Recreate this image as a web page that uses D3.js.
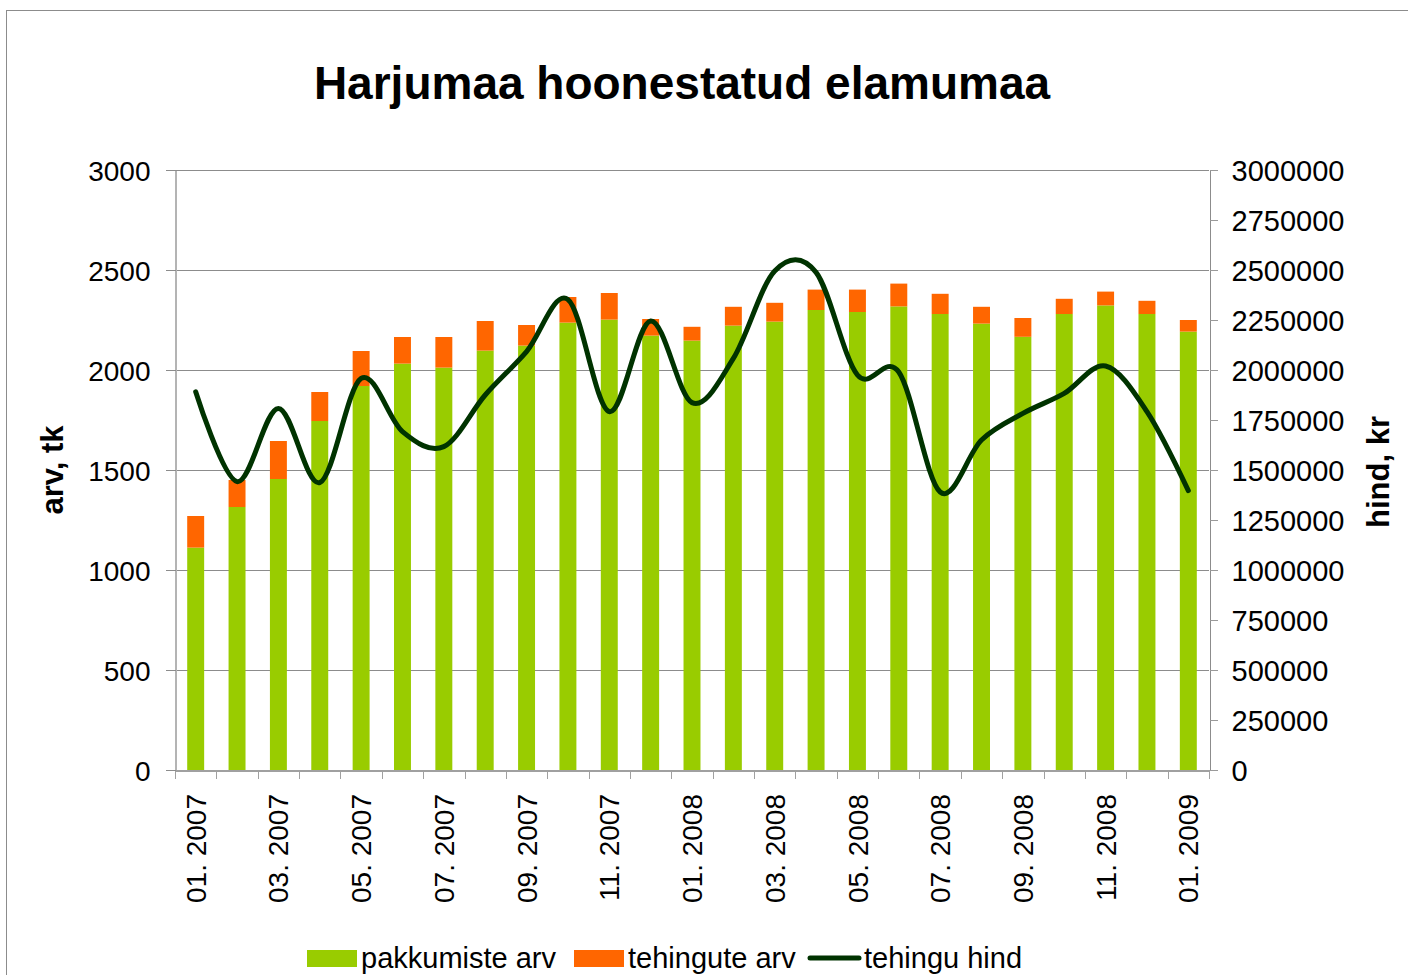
<!DOCTYPE html>
<html>
<head>
<meta charset="utf-8">
<script src="https://cdn.jsdelivr.net/npm/d3@7"></script>
<style>
  body { margin: 0; background: #fff; }
  svg { font-family: "Liberation Sans", Arial, sans-serif; }
  .axis path, .axis line { shape-rendering: crispEdges; }
</style>
</head>
<body>
<div id="chart"></div>
<script>
var months = ["01. 2007", "02. 2007", "03. 2007", "04. 2007", "05. 2007", "06. 2007",
              "07. 2007", "08. 2007", "09. 2007", "10. 2007", "11. 2007", "12. 2007",
              "01. 2008", "02. 2008", "03. 2008", "04. 2008", "05. 2008", "06. 2008",
              "07. 2008", "08. 2008", "09. 2008", "10. 2008", "11. 2008", "12. 2008",
              "01. 2009"];
var pakkumised = [1112, 1315, 1455, 1745, 1920, 2032, 2012, 2097, 2122, 2237, 2252, 2172,
                  2147, 2222, 2242, 2300, 2290, 2318, 2280, 2232, 2166, 2280, 2323, 2280, 2192];
var tehingud = [158, 135, 190, 145, 175, 133, 153, 148, 103, 128, 133, 83,
                69, 94, 94, 102, 112, 114, 101, 84, 94, 76, 69, 66, 58];
var hind = [1891000, 1442000, 1808000, 1437000, 1958000, 1692000, 1617000, 1875000,
            2092000, 2353000, 1792000, 2245000, 1837000, 2058000, 2495000, 2488000,
            1975000, 1990000, 1390000, 1650000, 1783000, 1883000, 2020000, 1792000, 1397000];
var leftTicks = [0, 500, 1000, 1500, 2000, 2500, 3000];
var rightTicks = [0, 250000, 500000, 750000, 1000000, 1250000, 1500000, 1750000,
                  2000000, 2250000, 2500000, 2750000, 3000000];
var seriesNames = ["pakkumiste arv", "tehingute arv", "tehingu hind"];
var colors = ["#99cc00", "#ff6600", "#003300"];

var cfg = {
    width: 1408,
    height: 975,
    margin: {top: 170, left: 175},
    plotW: 1034,
    plotH: 600
};

var svg = d3.select("#chart").append("svg")
    .attr("width", cfg.width)
    .attr("height", cfg.height);

// outer chart frame
svg.append("rect")
    .attr("x", 6.5).attr("y", 10.5)
    .attr("width", cfg.width).attr("height", cfg.height)
    .attr("fill", "none").attr("stroke", "#8c8c8c");

svg.append("text")
    .attr("x", 682).attr("y", 99)
    .attr("text-anchor", "middle")
    .style("font-size", "46px").style("font-weight", "bold")
    .text("Harjumaa hoonestatud elamumaa");

var g = svg.append("g")
    .attr("transform", "translate(" + cfg.margin.left + "," + cfg.margin.top + ")");

var x = d3.scaleBand().domain(months).range([0, cfg.plotW])
    .paddingInner(0.59).paddingOuter(0.295);
var xEdge = d3.scaleLinear().domain([0, months.length]).range([0, cfg.plotW]);
var y = d3.scaleLinear().domain([0, 3000]).range([cfg.plotH, 0]);
var y2 = d3.scaleLinear().domain([0, 3000000]).range([cfg.plotH, 0]);

// gridlines
g.append("g").selectAll("line")
    .data(leftTicks.slice(1))
    .enter().append("line")
    .attr("x1", 0).attr("x2", cfg.plotW)
    .attr("y1", function(d) { return Math.round(y(d)) + 0.5; })
    .attr("y2", function(d) { return Math.round(y(d)) + 0.5; })
    .attr("stroke", "#8c8c8c");

// stacked bars
var stacked = months.map(function(m, i) {
    return {m: m, parts: [{m: m, start: 0, end: pakkumised[i], c: 0},
                          {m: m, start: pakkumised[i], end: pakkumised[i] + tehingud[i], c: 1}]};
});
g.selectAll(".kuu")
    .data(stacked)
    .enter().append("g")
    .attr("class", "kuu")
    .selectAll("rect")
    .data(function(d) { return d.parts; })
    .enter().append("rect")
    .attr("x", function(d) { return x(d.m); })
    .attr("width", x.bandwidth())
    .attr("y", function(d) { return y(d.end); })
    .attr("height", function(d) { return y(d.start) - y(d.end); })
    .attr("fill", function(d) { return colors[d.c]; });

// left axis
var yAxis = d3.axisLeft(y).tickValues(leftTicks).tickFormat(d3.format("d"))
    .tickSizeInner(10).tickSizeOuter(0).tickPadding(15);
var gy = g.append("g").attr("class", "axis").attr("transform", "translate(0.5,0)").call(yAxis);
gy.select(".domain").attr("stroke", "#b4b4b4").attr("stroke-width", 1.5);
gy.selectAll("line").attr("stroke", "#8c8c8c");
gy.selectAll("text").style("font-size", "28px").attr("fill", "#000").attr("dy", "0.36em");

// right axis
var yAxis2 = d3.axisRight(y2).tickValues(rightTicks).tickFormat(d3.format("d"))
    .tickSizeInner(8).tickSizeOuter(0).tickPadding(14);
var gy2 = g.append("g").attr("class", "axis")
    .attr("transform", "translate(" + (cfg.plotW + 0.5) + ",0)").call(yAxis2);
gy2.select(".domain").attr("stroke", "#8c8c8c");
gy2.selectAll("line").attr("stroke", "#9a9a9a");
gy2.selectAll("text").style("font-size", "29px").attr("fill", "#000").attr("dy", "0.36em");

// x axis: ticks on month boundaries, labels every second month
var xTicks = d3.axisBottom(xEdge).tickValues(d3.range(months.length + 1))
    .tickSizeInner(8).tickSizeOuter(0).tickFormat("");
var gx = g.append("g").attr("class", "axis")
    .attr("transform", "translate(0," + (cfg.plotH + 0.5) + ")").call(xTicks);
gx.select(".domain").attr("stroke", "#a0a0a0").attr("stroke-width", 1.5);
gx.selectAll("line").attr("stroke", "#a0a0a0");

var xAxis = d3.axisBottom(x)
    .tickValues(months.filter(function(d, i) { return i % 2 == 0; }))
    .tickSize(0);
var gxl = g.append("g").attr("class", "axis")
    .attr("transform", "translate(0," + cfg.plotH + ")").call(xAxis);
gxl.select(".domain").remove();
gxl.selectAll("text")
    .style("font-size", "28px").attr("fill", "#000")
    .style("text-anchor", "end")
    .attr("x", -24).attr("y", 0)
    .attr("dy", "0.36em")
    .attr("transform", "rotate(-90)");

// price line
var line = d3.line()
    .x(function(d, i) { return x(months[i]) + x.bandwidth() / 2; })
    .y(function(d) { return y2(d); })
    .curve(d3.curveCardinal.tension(0));
g.append("path")
    .datum(hind)
    .attr("d", line)
    .attr("fill", "none")
    .attr("stroke", colors[2])
    .attr("stroke-width", 5)
    .attr("stroke-linejoin", "round")
    .attr("stroke-linecap", "round");

// axis titles
svg.append("text")
    .attr("transform", "translate(63,470) rotate(-90)")
    .attr("text-anchor", "middle")
    .style("font-size", "31px").style("font-weight", "bold")
    .text("arv, tk");
svg.append("text")
    .attr("transform", "translate(1389,472) rotate(-90)")
    .attr("text-anchor", "middle")
    .style("font-size", "31px").style("font-weight", "bold")
    .text("hind, kr");

// legend
var legendX = [307, 574, 808];
var legend = svg.selectAll(".legend")
    .data(seriesNames)
    .enter().append("g")
    .attr("class", "legend")
    .attr("transform", function(d, i) { return "translate(" + legendX[i] + ",958)"; });

legend.filter(function(d, i) { return i < 2; })
    .append("rect")
    .attr("x", 0).attr("y", -8)
    .attr("width", 50).attr("height", 17)
    .attr("fill", function(d, i) { return colors[i]; });
legend.filter(function(d, i) { return i == 2; })
    .append("line")
    .attr("x1", 2).attr("x2", 51).attr("y1", 0).attr("y2", 0)
    .attr("stroke", colors[2]).attr("stroke-width", 5)
    .attr("stroke-linecap", "round");
legend.append("text")
    .attr("x", function(d, i) { return i < 2 ? 54 : 56; })
    .attr("y", 0)
    .attr("dy", "0.36em")
    .style("font-size", "29px")
    .text(function(d) { return d; });
</script>
</body>
</html>
